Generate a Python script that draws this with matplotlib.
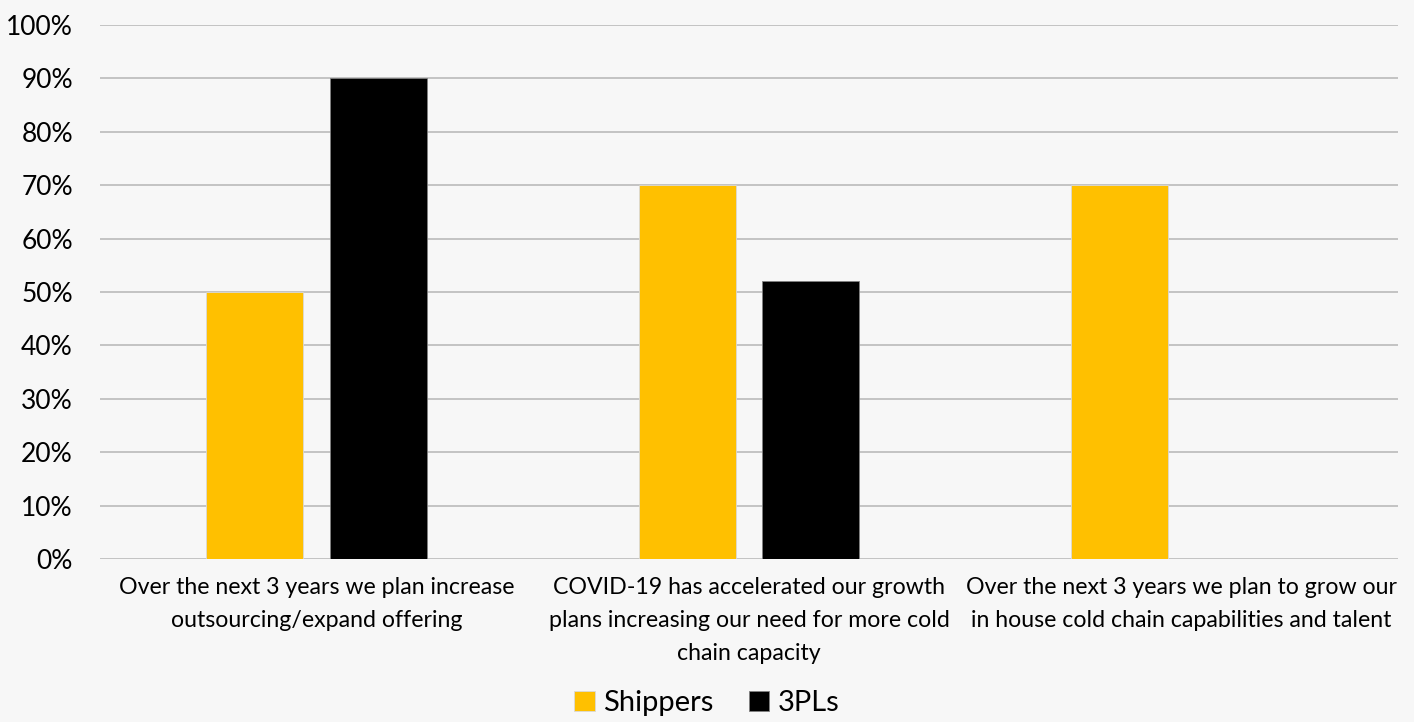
import matplotlib
matplotlib.use("Agg")
import matplotlib.pyplot as plt
import numpy as np

# data
categories = [
    "Over the next 3 years we plan increase\noutsourcing/expand offering",
    "COVID-19 has accelerated our growth\nplans increasing our need for more cold\nchain capacity",
    "Over the next 3 years we plan to grow our\nin house cold chain capabilities and talent",
]
shippers = [0.50, 0.70, 0.70]
tpls = [0.90, 0.52, np.nan]
series_names = ["Shippers", "3PLs"]
y_ticks = [0.0, 0.1, 0.2, 0.3, 0.4, 0.5, 0.6, 0.7, 0.8, 0.9, 1.0]

plt.rcParams['font.family'] = ['Lato', 'DejaVu Sans']
bg = '#f7f7f7'

fig = plt.figure(figsize=(14.14, 7.22), dpi=100, facecolor=bg)
ax = fig.add_axes([0.0707, 0.2258, 0.918, 0.7396], facecolor=bg)

x = np.arange(len(categories))
w = 0.224
off = 0.143
ax.bar(x - off, shippers, w, color='#ffc000', edgecolor='#d9d9d9', linewidth=0.6,
       label=series_names[0], zorder=3)
ax.bar(x + off, tpls, w, color='#000000', edgecolor='#808080', linewidth=0.6,
       label=series_names[1], zorder=3)

ax.set_xlim(-0.5, len(categories) - 0.5)
ax.set_ylim(0, 1.0)
ax.set_yticks(y_ticks)
ax.set_yticklabels([f"{int(round(t * 100))}%" for t in y_ticks], fontsize=19)
ax.yaxis.grid(True, color='#bfbfbf', linewidth=1.3, zorder=0)
ax.set_axisbelow(True)
ax.set_xticks(x)
ax.set_xticklabels(categories, fontsize=16.7, linespacing=1.7)
ax.tick_params(axis='both', length=0, colors='#000000')
ax.tick_params(axis='y', pad=19.5)
ax.tick_params(axis='x', pad=13)
for s in ax.spines.values():
    s.set_visible(False)

handles, labels = ax.get_legend_handles_labels()
fig.legend(handles, labels, loc='center', bbox_to_anchor=(0.5, 0.026), ncol=2, frameon=False,
           fontsize=21, handlelength=0.7, handleheight=0.7, handletextpad=0.3,
           columnspacing=1.2)

fig.savefig("out.png", dpi=100, facecolor=bg)
